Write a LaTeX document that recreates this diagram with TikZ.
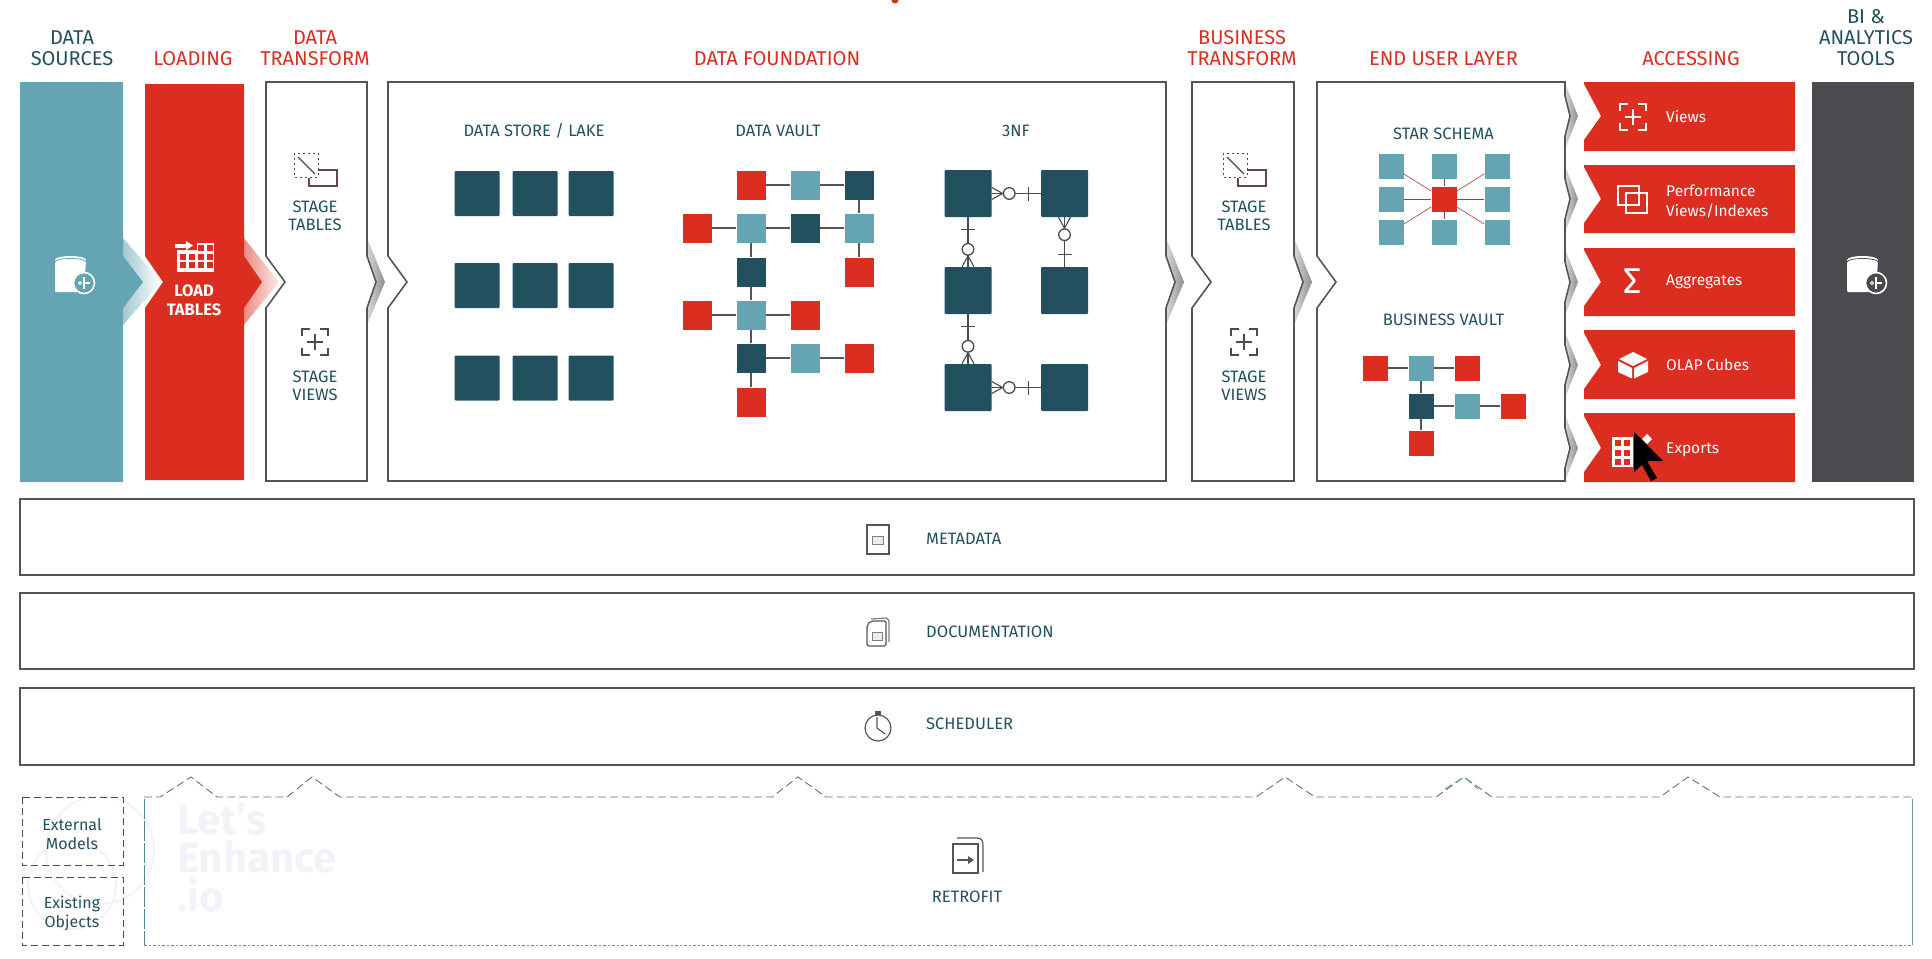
\documentclass[tikz,border=0pt]{standalone}
\usepackage{fontspec}
\setmainfont{Fira Sans}
\definecolor{boxteal}{HTML}{65A5B3}
\definecolor{boxred}{HTML}{DB2E20}
\definecolor{boxdark}{HTML}{22505F}
\definecolor{boxgray}{HTML}{4A4A4F}
\definecolor{edgegray}{HTML}{555555}
\definecolor{wmark}{HTML}{F2F3F8}
\tikzset{
  pics/dbicon/.style={code={
    \fill[white,rounded corners=1pt] (-17,-17) -- (-17,15) -- (12,15) -- (14,-17) -- cycle;
    \fill[white] (-1.5,-17) ellipse (15.5 and 4);
    \draw[#1,line width=.8pt] (-17,-15) arc[start angle=180,end angle=360,x radius=15.5,y radius=3.5];
    \filldraw[fill=#1,draw=white,line width=1.6pt] (12,6) circle (10.5);
    \draw[white,line width=1.2pt] (12,0) -- (12,12) (13,6) -- (18,6);
    \draw[white,line width=.8pt] (8,6) circle (1.5);
  }},
  pics/tableicon/.style={code={
    \draw[#1,line width=.9pt,dash pattern=on 2pt off 3pt] (-21,-22) rectangle (3,2);
    \draw[#1,line width=1.2pt] (-17,-18) -- (0,-1);
    \draw[#1!80!boxred,line width=1.4pt] (3,-5) -- (22,-5) -- (22,11) -- (-6,11) -- (-6,3);
  }},
  pics/viewicon/.style={code={
    \draw[#1] (-13,-6) -- (-13,-13) -- (-5,-13) (5,-13) -- (13,-13) -- (13,-6)
      (13,6) -- (13,13) -- (5,13) (-5,13) -- (-13,13) -- (-13,6)
      (-8,0) -- (8,0) (0,-8) -- (0,8);
  }}
}
\begin{document}
\begin{tikzpicture}[x=1pt,y=-1pt]
    \useasboundingbox (0,0) rectangle (1932,958);
    \tikzstyle{headblue}=[inner sep=0pt,align=center,text=boxdark,font=\fontsize{20}{21}\selectfont]
    \tikzstyle{headred}=[inner sep=0pt,align=center,text=boxred,font=\fontsize{20}{21}\selectfont]
    \tikzstyle{innerlabel}=[inner sep=0pt,align=center,text=boxdark,font=\fontsize{16.5}{18}\selectfont]
    \tikzstyle{rowlabel}=[inner sep=0pt,anchor=west,text=boxdark,font=\fontsize{16.5}{18}\selectfont]
    \tikzstyle{smalllabel}=[inner sep=0pt,align=center,text=boxdark,font=\fontsize{16}{19}\selectfont]
    \tikzstyle{accesslabel}=[inner sep=0pt,anchor=west,align=left,text=white,font=\fontsize{15.5}{20}\selectfont]
    \tikzstyle{outline}=[draw=edgegray,line width=1.6pt,fill=white]
    \tikzstyle{greyband}=[left color=gray!30,right color=gray!90]
    \tikzstyle{wmarktext}=[inner sep=0pt,anchor=west,text=wmark,font=\fontsize{42}{44}\selectfont\bfseries]
    \tikzstyle{storebox}=[fill=boxdark,inner sep=0pt,minimum width=45pt,minimum height=45pt,rounded corners=1pt]
    \tikzstyle{nfbox}=[fill=boxdark,inner sep=0pt,minimum width=47pt,minimum height=47pt,rounded corners=1pt]
    \tikzstyle{hubred}=[fill=boxred,inner sep=0pt,minimum width=29pt,minimum height=29pt]
    \tikzstyle{hubteal}=[fill=boxteal,inner sep=0pt,minimum width=29pt,minimum height=29pt]
    \tikzstyle{hubdark}=[fill=boxdark,inner sep=0pt,minimum width=29pt,minimum height=29pt]
    \tikzstyle{starbox}=[fill=boxteal,inner sep=0pt,minimum width=25pt,minimum height=25pt]
    \tikzstyle{starhub}=[fill=boxred,inner sep=0pt,minimum width=25pt,minimum height=25pt]
    \tikzstyle{bvred}=[starhub]
    \tikzstyle{bvteal}=[starbox]
    \tikzstyle{bvdark}=[fill=boxdark,inner sep=0pt,minimum width=25pt,minimum height=25pt]
    \tikzstyle{link}=[draw=edgegray,line width=1.3pt]
    \tikzstyle{starlink}=[draw=boxred!45!edgegray,line width=.6pt]
    \tikzstyle{nflink}=[draw=boxgray,line width=1.1pt]
    \tikzstyle{rowline}=[draw=edgegray,line width=1.6pt]
    \tikzstyle{dashbox}=[draw=boxgray!80!boxred,line width=1pt,dash pattern=on 7pt off 4pt]
    \tikzset{
      pics/crowfoot/.style={code={
        \draw[boxgray,line width=1.1pt] (0,-6) -- (11,0) -- (0,6);
        \filldraw[draw=boxgray,fill=white,line width=1.3pt] (17.5,0) circle (5.8);
      }},
      pics/onebar/.style={code={
        \draw[boxgray,line width=1.1pt] (-12,-7) -- (-12,7);
      }}
    }

    % watermark
    \draw[wmark,line width=2pt] (100,850) circle (54);
    \draw[wmark,line width=2pt] (72,885) circle (44);
    \node[wmarktext] (wmone) at (177,819) {Let's};
    \node[wmarktext] (wmtwo) at (177,857) {Enhance};
    \node[wmarktext] (wmthree) at (177,895) {.io};

    % top row
    \fill[boxred] (895,0) circle (3.5);
    \node[headblue] (hsources) at (72,48.5) {DATA\\SOURCES};
    \node[headred] (hloading) at (193,59) {LOADING};
    \node[headred] (htransform) at (315,48.5) {DATA\\TRANSFORM};
    \node[headred] (hfoundation) at (777,59) {DATA FOUNDATION};
    \node[headred] (hbusiness) at (1242,48.5) {BUSINESS\\TRANSFORM};
    \node[headred] (henduser) at (1443.5,59) {END USER LAYER};
    \node[headred] (haccess) at (1691,59) {ACCESSING};
    \node[headblue] (htools) at (1866,37.5) {BI \&\\ANALYTICS\\TOOLS};

    \shade[left color=boxteal!60,right color=white] (123,238) -- (161,282) -- (123,325) -- cycle;
    \shade[left color=boxred!55,right color=boxred!10] (244,238) -- (279,282) -- (244,325) -- cycle;
    \foreach \bx in {367,1166,1294}{
      \shade[greyband] (\bx,238) -- (\bx+18,282) -- (\bx,325) -- (\bx,308) -- (\bx+9,282) -- (\bx,256) -- cycle;
    }
    \fill[boxteal] (20,82) -- (123,82) -- (123,256) -- (143,282) -- (123,308) -- (123,482) -- (20,482) -- cycle;
    \fill[boxred] (145,84) -- (244,84) -- (244,256) -- (262,282) -- (244,308) -- (244,480) -- (145,480) -- (145,308) -- (163,282) -- (145,256) -- cycle;
    \filldraw[outline] (266,82) -- (367,82) -- (367,256) -- (376,282) -- (367,308) -- (367,481) -- (266,481) -- (266,308) -- (285,282) -- (266,256) -- cycle;
    \filldraw[outline] (388,82) -- (1166,82) -- (1166,256) -- (1175,282) -- (1166,308) -- (1166,481) -- (388,481) -- (388,308) -- (407,282) -- (388,256) -- cycle;
    \filldraw[outline] (1192,82) -- (1294,82) -- (1294,256) -- (1303,282) -- (1294,308) -- (1294,481) -- (1192,481) -- (1192,308) -- (1211,282) -- (1192,256) -- cycle;
    \foreach \cy in {116,199,282,365,448}{
      \shade[greyband] (1565,\cy-33) -- (1578,\cy) -- (1565,\cy+33) -- (1565,\cy+20) -- (1570,\cy) -- (1565,\cy-20) -- cycle;
    }
    \filldraw[outline] (1317,82) -- (1565,82) -- (1565,96) -- (1570,116) -- (1565,136) -- (1565,179) -- (1570,199) -- (1565,219) -- (1565,262) -- (1570,282) -- (1565,302) -- (1565,345) -- (1570,365) -- (1565,385) -- (1565,428) -- (1570,448) -- (1565,468) -- (1565,481) -- (1317,481) -- (1317,308) -- (1336,282) -- (1317,256) -- cycle;
    \fill[boxgray] (1812,82) rectangle (1914,482);
    \foreach \cy/\ty/\by in {116/82/151,199/165/233,282/248/316,365/330/399,448/413/482}{
      \fill[boxred] (1584,\ty) -- (1795,\ty) -- (1795,\by) -- (1584,\by) -- (1584,\cy+24) -- (1601,\cy) -- (1584,\cy-32) -- cycle;
    }

    % sources and loading
    \pic at (72,277) {dbicon=boxteal};
    \pic at (1864,277) {dbicon=boxgray};
    \fill[white] (177,250) rectangle (214,272);
    \fill[white] (197,243) rectangle (214,252);
    \foreach \gx in {180,189,198,207}{
      \foreach \gy in {254,262}{\fill[boxred] (\gx,\gy) rectangle (\gx+6,\gy+6);}
    }
    \foreach \gx in {198,207}{\fill[boxred] (\gx,245) rectangle (\gx+6,251);}
    \fill[white] (175,243.5) rectangle (186,247.5);
    \fill[white] (186,241) -- (193,245.5) -- (186,250) -- cycle;
    \node[inner sep=0pt,align=center,text=white,font=\fontsize{16.5}{19.5}\selectfont\bfseries] (nload) at (194,300.5) {LOAD\\TABLES};

    % stage columns
    \pic at (315,175) {tableicon=boxgray};
    \pic at (1244,175) {tableicon=boxgray};
    \pic[line width=1.3pt] at (315,342) {viewicon=boxgray};
    \pic[line width=1.3pt] at (1244,342) {viewicon=boxgray};
    \node[innerlabel] (ntablesa) at (315,216) {STAGE\\TABLES};
    \node[innerlabel] (nviewsa) at (315,385.5) {STAGE\\VIEWS};
    \node[innerlabel] (ntablesb) at (1244,216) {STAGE\\TABLES};
    \node[innerlabel] (nviewsb) at (1244,385.5) {STAGE\\VIEWS};

    % data store
    \node[innerlabel] (nstore) at (534,131) {DATA STORE / LAKE};
    \foreach \sx in {477,535,591}{
      \foreach \sy in {193.5,285.5,378}{\node[storebox] at (\sx,\sy) {};}
    }

    % data vault
    \node[innerlabel] (nvault) at (778,131) {DATA VAULT};
    \foreach \n/\hs/\vx/\vy in {va/hubred/751/185,vb/hubteal/805/185,vc/hubdark/859/185,
      vd/hubred/697/228,ve/hubteal/751/228,vf/hubdark/805/228,vg/hubteal/859/228,
      vh/hubdark/751/272,vi/hubred/859/272,
      vj/hubred/697/315,vk/hubteal/751/315,vl/hubred/805/315,
      vm/hubdark/751/358,vn/hubteal/805/358,vo/hubred/859/358,vp/hubred/751/402}{
      \node[\hs] (\n) at (\vx,\vy) {};
    }
    \foreach \a/\b in {va/vb,vb/vc,vc/vg,vd/ve,ve/vf,vf/vg,vg/vi,ve/vh,vh/vk,vj/vk,vk/vl,vk/vm,vm/vn,vn/vo,vm/vp}{
      \draw[link] (\a) -- (\b);
    }

    % 3nf
    \node[innerlabel] (nnf) at (1016,131) {3NF};
    \foreach \n/\nx/\ny in {nfa/968/193.5,nfb/1064.5/193.5,nfc/968/290.5,nfd/1064.5/290.5,nfe/968/387.5,nff/1064.5/387.5}{
      \node[nfbox] (\n) at (\nx,\ny) {};
    }
    \draw[nflink] (nfa.east) -- (nfb.west) pic[pos=0,sloped,allow upside down]{crowfoot} pic[pos=1,sloped,allow upside down]{onebar};
    \draw[nflink] (nfc.north) -- (nfa.south) pic[pos=0,sloped,allow upside down]{crowfoot} pic[pos=1,sloped,allow upside down]{onebar};
    \draw[nflink] (nfb.south) -- (nfd.north) pic[pos=0,sloped,allow upside down]{crowfoot} pic[pos=1,sloped,allow upside down]{onebar};
    \draw[nflink] (nfe.north) -- (nfc.south) pic[pos=0,sloped,allow upside down]{crowfoot} pic[pos=1,sloped,allow upside down]{onebar};
    \draw[nflink] (nfe.east) -- (nff.west) pic[pos=0,sloped,allow upside down]{crowfoot} pic[pos=1,sloped,allow upside down]{onebar};

    % star schema
    \node[innerlabel] (nstar) at (1443.5,134) {STAR SCHEMA};
    \node[starhub] (ssc) at (1444,199) {};
    \foreach \n/\nx/\ny in {ssa/1391/166,ssb/1444/166,ssd/1497/166,sse/1391/199,ssf/1497/199,ssg/1391/232,ssh/1444/232,ssi/1497/232}{
      \node[starbox] (\n) at (\nx,\ny) {};
      \draw[starlink] (ssc) -- (\n);
    }

    % business vault
    \node[innerlabel] (nbvault) at (1443.5,320) {BUSINESS VAULT};
    \foreach \n/\hs/\vx/\vy in {bva/bvred/1375/368,bvb/bvteal/1421/368,bvc/bvred/1467/368,
      bvd/bvdark/1421/406,bve/bvteal/1467/406,bvf/bvred/1513/406,bvg/bvred/1421/443}{
      \node[\hs] (\n) at (\vx,\vy) {};
    }
    \foreach \a/\b in {bva/bvb,bvb/bvc,bvb/bvd,bvd/bve,bve/bvf,bvd/bvg}{
      \draw[link] (\a) -- (\b);
    }

    % accessing
    \pic[line width=2pt] at (1633,117) {viewicon=white};
    \node[accesslabel] (nviews) at (1666,117) {Views};
    \draw[white,line width=1.7pt] (1618,186) rectangle (1639,205) (1626,193) rectangle (1647,213);
    \node[accesslabel] (nperf) at (1666,201) {Performance\\Views/Indexes};
    \node[inner sep=0pt,text=white,font=\fontsize{36}{38}\selectfont] (nsigma) at (1633,281) {Σ};
    \node[accesslabel] (naggr) at (1666,282) {Aggregates};
    \fill[white] (1633,352) -- (1647,359) -- (1633,366) -- (1619,359) -- cycle;
    \fill[white] (1618,361) -- (1632,368) -- (1632,378.5) -- (1618,372) -- cycle;
    \fill[white] (1648,361) -- (1634,368) -- (1634,378.5) -- (1648,372) -- cycle;
    \node[accesslabel] (nolap) at (1666,365) {OLAP Cubes};
    \fill[white] (1612,437) rectangle (1633,467);
    \foreach \gx in {1615,1624}{
      \foreach \gy in {440,450,459}{\fill[boxred] (\gx,\gy) rectangle (\gx+6,\gy+6);}
    }
    \fill[white] (1647,434) -- (1652,439) -- (1647,444) -- (1642,439) -- cycle;
    \fill[black] (1634,432) -- (1663,461) -- (1647,461) -- (1657,478) -- (1651,481) -- (1642,465) -- (1634,472) -- cycle;
    \node[accesslabel] (nexports) at (1666,450) {Exports};

    % support rows
    \draw[rowline] (20,499) rectangle (1914,575);
    \draw[rowline] (20,593) rectangle (1914,669);
    \draw[rowline] (20,688) rectangle (1914,765);
    \draw[edgegray,line width=1.2pt] (867,525) rectangle (889,554);
    \filldraw[draw=gray,fill=gray!15,line width=.8pt] (872,536) rectangle (883,544);
    \node[rowlabel] (nmeta) at (926,539) {METADATA};
    \draw[gray,line width=1.2pt] (871,619) -- (886,618) .. controls (889,619) and (889,620) .. (889,624) -- (889,642);
    \filldraw[draw=edgegray,fill=white,line width=1.2pt,rounded corners=2pt] (867,625) -- (871,621) -- (886,621) -- (886,646) -- (867,646) -- cycle;
    \filldraw[draw=gray,fill=gray!15,line width=.8pt] (872,632) rectangle (882,640);
    \node[rowlabel] (ndoc) at (926,632) {DOCUMENTATION};
    \draw[edgegray,line width=1.2pt] (878,728) circle (13);
    \fill[edgegray] (875,711) rectangle (881,715);
    \draw[edgegray,line width=1.2pt] (877,717) -- (877,728) -- (885,734);
    \node[rowlabel] (nsched) at (926,724) {SCHEDULER};

    % retrofit
    \draw[dashbox] (22,797) rectangle (123,865);
    \draw[dashbox] (22,877) rectangle (123,945);
    \node[smalllabel] (nexternal) at (72,834.5) {External\\Models};
    \node[smalllabel] (nexisting) at (72,913) {Existing\\Objects};
    \draw[edgegray!85,line width=.9pt,dash pattern=on 8pt off 4pt] (144,797) -- (160,797) -- (191,777) -- (217,797) -- (287,797) -- (312,777) -- (340,797)
      -- (772,797) -- (798,777) -- (826,797) -- (1256,797) -- (1285,777) -- (1315,797) -- (1436,797) -- (1464,777) -- (1492,797)
      -- (1660,797) -- (1688,777) -- (1720,797) -- (1912,797);
    \draw[boxteal,line width=1pt,dash pattern=on 8pt off 4pt] (1445,789) -- (1464,777) -- (1478,789);
    \draw[boxteal!45!gray,line width=.9pt,dash pattern=on 2.5pt off 2pt] (144,945) -- (1912,945);
    \draw[boxteal!80!black,line width=.9pt,dash pattern=on 20pt off 2pt] (144,799) -- (144,945);
    \draw[boxteal!60!gray,line width=.8pt] (1912,799) -- (1912,945);
    \draw[edgegray,line width=1.2pt] (953,844) rectangle (978,873);
    \draw[edgegray,line width=1.2pt] (957,838) -- (977,838) .. controls (982,838) and (983,841) .. (983,846) -- (983,872);
    \draw[edgegray,line width=1.4pt] (957,860) -- (968,860);
    \fill[edgegray] (968,856) -- (974,860) -- (968,864) -- cycle;
    \node[innerlabel] (nretro) at (967,897) {RETROFIT};
\end{tikzpicture}
\end{document}
